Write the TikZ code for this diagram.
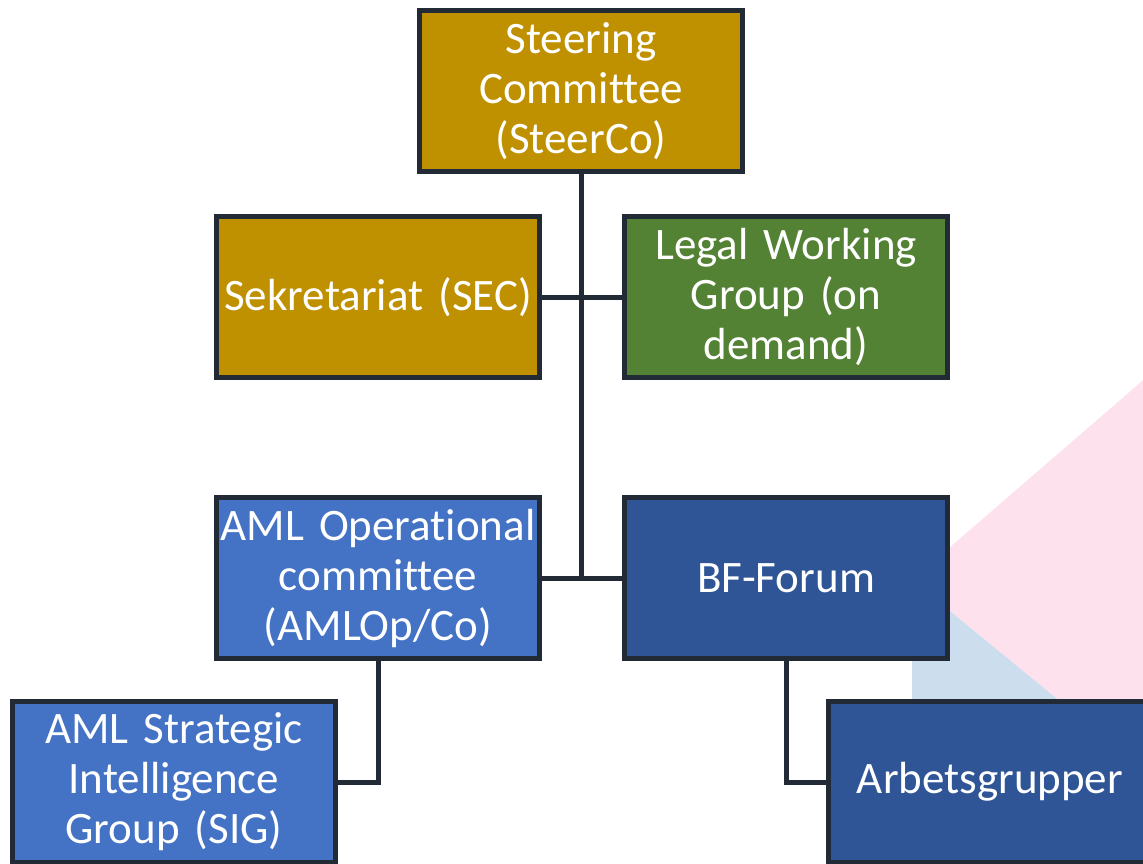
\documentclass[tikz,border=0pt]{standalone}
\usepackage{fontspec}
\setmainfont{Carlito}[Ligatures=NoCommon]
\usepackage{tikz}
\definecolor{steerGold}{HTML}{BF9000}
\definecolor{legalGreen}{HTML}{548235}
\definecolor{opBlue}{HTML}{4472C4}
\definecolor{forumBlue}{HTML}{2F5597}
\definecolor{edgeSlate}{HTML}{222A35}
\definecolor{bgPink}{HTML}{FDE1EC}
\definecolor{bgBlue}{HTML}{CCDDEE}

\begin{document}
\begin{tikzpicture}[x=1pt, y=-1pt,
  org/.style={draw=edgeSlate, line width=5pt, text=white, align=center,
    minimum width=323pt, minimum height=161pt, text width=318pt, inner sep=0pt,
    font=\fontsize{45}{50}\selectfont},
  link/.style={draw=edgeSlate, line width=5pt}]
	\useasboundingbox (0,0) rectangle (1143,864);
	% background shapes
	\fill[bgPink] (912,580) -- (1200,331) -- (1200,816) -- cycle;
	\fill[bgBlue] (912,580) -- (1200,816) -- (1200,900) -- (912,900) -- cycle;
	% boxes
	\node[org, fill=steerGold] (steer) at (581,91) {Steering\\Committee\\(SteerCo)};
	\node[org, fill=steerGold] (sec) at (378,297) {Sekretariat (SEC)};
	\node[org, fill=legalGreen] (legal) at (786,297) {Legal Working\\Group (on\\demand)};
	\node[org, fill=opBlue] (amlop) at (378,578) {AML Operational\\committee\\(AMLOp/Co)};
	\node[org, fill=forumBlue] (bf) at (786,578) {BF-Forum};
	\node[org, fill=opBlue] (sig) at (174,782) {AML Strategic\\Intelligence\\Group (SIG)};
	\node[org, fill=forumBlue] (arb) at (990,782) {Arbetsgrupper};
	% connectors
	\coordinate (trunk) at (steer.south |- amlop.east);
	\draw[link] (steer.south) -- (trunk);
	\draw[link] (sec.east) -- (legal.west);
	\draw[link] (amlop.east) -- (bf.west);
	\draw[link] (amlop.south) |- (sig.east);
	\draw[link] (bf.south) |- (arb.west);
\end{tikzpicture}
\end{document}
